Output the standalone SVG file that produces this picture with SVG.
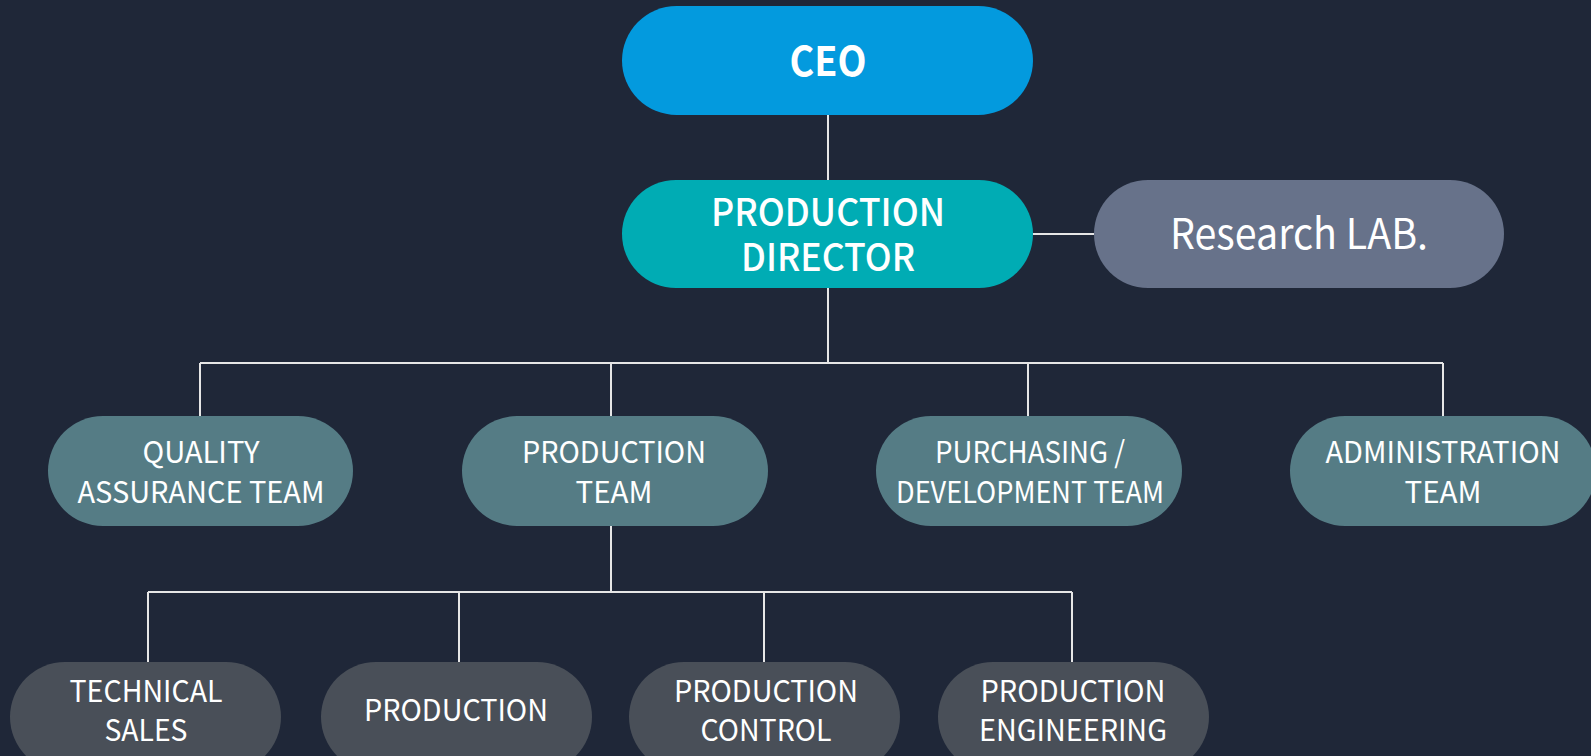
<svg xmlns="http://www.w3.org/2000/svg" width="1591" height="756" viewBox="0 0 1591 756">
<style>
text{font-family:"Noto Sans CJK KR","Source Sans Pro","Noto Sans",sans-serif;fill:#ffffff;text-anchor:middle}
.ln{stroke:#e6e6e6;stroke-width:2;fill:none}
.team{fill:#557c85}
.sub{fill:#494f58}
.t2{font-size:30px}
.t3{font-size:30px}
</style>
<rect x="0" y="0" width="1591" height="756" fill="#1f2738"/>
<g id="connectors">
<path class="ln" d="M828 115V180M1033 234H1094M828 288V363M200 363H1443M200 363V416M611 363V416M1028 363V416M1443 363V416M611 526V592M148 592H1072M148 592V662M459 592V662M764 592V662M1072 592V662"/>
</g>
<g id="ceo"><rect x="622" y="6" width="411" height="109" rx="54.5" fill="#039ade"/><text x="828" y="76" font-size="41" font-weight="700" textLength="77" lengthAdjust="spacingAndGlyphs">CEO</text></g>
<g id="director"><rect x="622" y="180" width="411" height="108" rx="54" fill="#00acb4"/><text x="828" y="226" font-size="38" font-weight="500" textLength="234" lengthAdjust="spacingAndGlyphs">PRODUCTION</text><text x="828" y="271" font-size="38" font-weight="500" textLength="174" lengthAdjust="spacingAndGlyphs">DIRECTOR</text></g>
<g id="research"><rect x="1094" y="180" width="410" height="108" rx="54" fill="#67728a"/><text x="1299" y="249" font-size="42" textLength="258" lengthAdjust="spacingAndGlyphs">Research LAB.</text></g>
<g id="qa"><rect class="team" x="48" y="416" width="305" height="110" rx="55"/><text class="t2" x="201" y="463" textLength="117" lengthAdjust="spacingAndGlyphs">QUALITY</text><text class="t2" x="201" y="503" textLength="247" lengthAdjust="spacingAndGlyphs">ASSURANCE TEAM</text></g>
<g id="prodteam"><rect class="team" x="462" y="416" width="306" height="110" rx="55"/><text class="t2" x="614" y="463" textLength="184" lengthAdjust="spacingAndGlyphs">PRODUCTION</text><text class="t2" x="614" y="503" textLength="77" lengthAdjust="spacingAndGlyphs">TEAM</text></g>
<g id="purchasing"><rect class="team" x="876" y="416" width="306" height="110" rx="55"/><text class="t2" x="1030" y="463" textLength="190" lengthAdjust="spacingAndGlyphs">PURCHASING /</text><text class="t2" x="1030" y="503" textLength="268" lengthAdjust="spacingAndGlyphs">DEVELOPMENT TEAM</text></g>
<g id="admin"><rect class="team" x="1290" y="416" width="306" height="110" rx="55"/><text class="t2" x="1443" y="463" textLength="235" lengthAdjust="spacingAndGlyphs">ADMINISTRATION</text><text class="t2" x="1443" y="503" textLength="77" lengthAdjust="spacingAndGlyphs">TEAM</text></g>
<g id="techsales"><rect class="sub" x="10" y="662" width="271" height="110" rx="55"/><text class="t3" x="146" y="702" textLength="153" lengthAdjust="spacingAndGlyphs">TECHNICAL</text><text class="t3" x="146" y="741" textLength="83" lengthAdjust="spacingAndGlyphs">SALES</text></g>
<g id="production"><rect class="sub" x="321" y="662" width="271" height="110" rx="55"/><text class="t3" x="456" y="721" textLength="184" lengthAdjust="spacingAndGlyphs">PRODUCTION</text></g>
<g id="prodcontrol"><rect class="sub" x="629" y="662" width="271" height="110" rx="55"/><text class="t3" x="766" y="702" textLength="184" lengthAdjust="spacingAndGlyphs">PRODUCTION</text><text class="t3" x="766" y="741" textLength="131" lengthAdjust="spacingAndGlyphs">CONTROL</text></g>
<g id="prodeng"><rect class="sub" x="938" y="662" width="271" height="110" rx="55"/><text class="t3" x="1073" y="702" textLength="185" lengthAdjust="spacingAndGlyphs">PRODUCTION</text><text class="t3" x="1073" y="741" textLength="188" lengthAdjust="spacingAndGlyphs">ENGINEERING</text></g>
</svg>
